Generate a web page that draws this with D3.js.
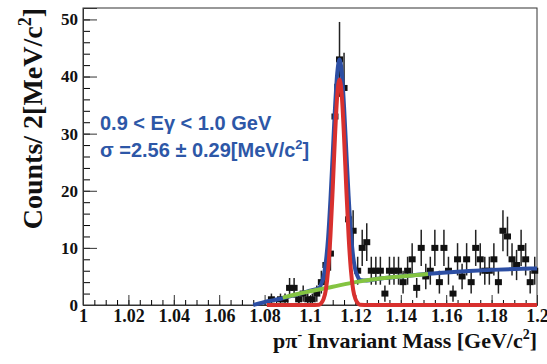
<!DOCTYPE html>
<html>
<head>
<meta charset="utf-8">
<script src="https://cdn.jsdelivr.net/npm/d3@7"></script>
<style>
  body { margin: 0; background: #fff; }
  svg { display: block; }
</style>
</head>
<body>
<div id="plot"></div>
<script>
// Histogram bins (bin centre in GeV, counts per 2 MeV)
const binCenters = [1.083, 1.087, 1.089, 1.091, 1.093, 1.095, 1.097, 1.099, 1.101, 1.103,
  1.105, 1.107, 1.109, 1.111, 1.113, 1.115, 1.117, 1.119, 1.121, 1.123,
  1.125, 1.127, 1.129, 1.131, 1.133, 1.135, 1.137, 1.139, 1.141, 1.143,
  1.145, 1.147, 1.149, 1.151, 1.153, 1.155, 1.157, 1.159, 1.161, 1.163,
  1.165, 1.167, 1.169, 1.171, 1.173, 1.175, 1.177, 1.179, 1.181, 1.183,
  1.185, 1.187, 1.189, 1.191, 1.193, 1.195, 1.197, 1.199];
const binCounts = [1, 1, 1, 3, 3, 1, 2, 1, 1, 2,
  4, 7, 9, 33, 43, 38, 15, 13, 6, 10,
  11, 6, 6, 6, 2, 6, 6, 6, 4, 6,
  8, 3, 10, 5, 6, 10, 4, 10, 6, 2,
  8, 5, 8, 4, 10, 8, 6, 6, 8, 4,
  13, 12, 8, 7, 10, 8, 4, 6];

// Total fit (blue)
const totalX = [1.075, 1.078, 1.082, 1.086, 1.090, 1.095, 1.100, 1.104, 1.105, 1.106, 1.107, 1.108,
  1.109, 1.110, 1.111, 1.112, 1.113, 1.114, 1.115, 1.116, 1.117, 1.118, 1.119, 1.120,
  1.121, 1.122, 1.125, 1.130, 1.140, 1.150, 1.160, 1.170, 1.180, 1.190, 1.200];
const totalY = [0, 0.3, 0.7, 1.0, 1.4, 1.9, 2.5, 3.0, 3.7, 5.0, 7.6, 11.9,
  18.4, 26.3, 34.4, 40.6, 43.0, 40.7, 34.7, 26.8, 19.1, 12.7, 8.5, 6.1,
  5.0, 4.4, 4.3, 4.6, 5.0, 5.4, 5.7, 5.95, 6.15, 6.3, 6.4];

// Background (green)
const bkgX = [1.088, 1.100, 1.110, 1.120, 1.130, 1.140, 1.152];
const bkgY = [1.3, 2.4, 3.2, 4.0, 4.6, 5.0, 5.45];

// Signal peak (red)
const sigX = [1.081, 1.100, 1.104, 1.105, 1.106, 1.107, 1.108, 1.109, 1.110, 1.111, 1.112, 1.113,
  1.114, 1.115, 1.116, 1.117, 1.118, 1.119, 1.120, 1.121, 1.122, 1.126, 1.200];
const sigY = [0, 0, 0.05, 0.35, 1.06, 2.7, 6.2, 12.1, 20.3, 29.4, 36.7, 39.5,
  36.7, 29.4, 20.3, 12.1, 6.2, 2.7, 1.06, 0.35, 0.05, 0, 0];

// Axes
const xMajor = [1, 1.02, 1.04, 1.06, 1.08, 1.1, 1.12, 1.14, 1.16, 1.18, 1.2];
const xLabels = ["1", "1.02", "1.04", "1.06", "1.08", "1.1", "1.12", "1.14", "1.16", "1.18", "1.2"];
const yMajor = [0, 10, 20, 30, 40, 50];
const yLabels = ["0", "10", "20", "30", "40", "50"];

const width = 547, height = 364;
const svg = d3.select("#plot").append("svg").attr("width", width).attr("height", height);

const x = d3.scaleLinear().domain([1, 1.2]).range([83, 537]);
const y = d3.scaleLinear().domain([0, 52]).range([305, 8]);

const serif = "'Liberation Serif', 'Times New Roman', serif";
const sans = "'Liberation Sans', Arial, sans-serif";

// frame
svg.append("rect")
  .attr("x", x(1)).attr("y", y(52))
  .attr("width", x(1.2) - x(1)).attr("height", y(0) - y(52))
  .attr("fill", "none").attr("stroke", "#333").attr("stroke-width", 1);

// minor ticks
const xMinor = d3.range(0, 41).map(i => 1 + i * 0.005);
const yMinor = d3.range(0, 26).map(i => i * 2);
svg.append("g").attr("transform", `translate(0, ${y(0)})`)
  .call(d3.axisBottom(x).tickValues(xMinor).tickSize(-5).tickFormat(""))
  .call(g => g.select(".domain").remove());
svg.append("g").attr("transform", `translate(${x(1)}, 0)`)
  .call(d3.axisLeft(y).tickValues(yMinor).tickSize(-7).tickFormat(""))
  .call(g => g.select(".domain").remove());

// major ticks + labels
const xAxis = svg.append("g").attr("transform", `translate(0, ${y(0)})`)
  .call(d3.axisBottom(x).tickValues(xMajor).tickSize(-10).tickPadding(4)
    .tickFormat((d, i) => xLabels[i]));
const yAxis = svg.append("g").attr("transform", `translate(${x(1)}, 0)`)
  .call(d3.axisLeft(y).tickValues(yMajor).tickSize(-14).tickPadding(5)
    .tickFormat((d, i) => yLabels[i]));
[xAxis, yAxis].forEach(g => {
  g.selectAll("line").attr("stroke", "#333");
  g.select(".domain").attr("stroke", "#333");
  g.selectAll("text").attr("font-family", serif).attr("font-weight", "bold")
    .attr("font-size", 18).attr("fill", "#111");
});
yAxis.selectAll("text").attr("font-size", 17);

// data points with sqrt(N) errors
const bins = binCenters.map((c, i) => ({ c: c, n: binCounts[i] }));
svg.append("g").selectAll("line")
  .data(bins).enter().append("line")
    .attr("x1", d => x(d.c)).attr("x2", d => x(d.c))
    .attr("y1", d => y(d.n - Math.sqrt(d.n))).attr("y2", d => y(Math.min(52, d.n + Math.sqrt(d.n))))
    .attr("stroke", "#222").attr("stroke-width", 1.5);
svg.append("g").selectAll("rect")
  .data(bins).enter().append("rect")
    .attr("x", d => x(d.c) - 3.5).attr("y", d => y(d.n) - 3)
    .attr("width", 7).attr("height", 6)
    .attr("fill", "#111");

// fit curves
const line = d3.line().x(d => x(d[0])).y(d => y(d[1])).curve(d3.curveMonotoneX);
const drawCurve = (xs, ys, color) => svg.append("path")
  .datum(xs.map((v, i) => [v, ys[i]]))
  .attr("d", line)
  .attr("fill", "none").attr("stroke", color).attr("stroke-width", 4)
  .attr("stroke-linejoin", "round");
drawCurve(totalX, totalY, "#2c4ea3");
drawCurve(bkgX, bkgY, "#84c441");
drawCurve(sigX, sigY, "#d8302e");

// annotation
const note = svg.append("g").attr("font-family", sans).attr("font-weight", "bold")
  .attr("font-size", 20).attr("fill", "#2d57a7");
note.append("text").attr("x", 100).attr("y", 130).text("0.9 < Eγ < 1.0 GeV");
const sig = note.append("text").attr("x", 100).attr("y", 157);
sig.append("tspan").text("σ =2.56 ± 0.29[MeV/c");
sig.append("tspan").attr("font-size", 13).attr("dy", -8).text("2");
sig.append("tspan").attr("dy", 8).text("]");

// axis titles
const xt = svg.append("text").attr("x", 537).attr("y", 348).attr("text-anchor", "end")
  .attr("font-family", serif).attr("font-weight", "bold").attr("font-size", 22).attr("fill", "#111");
xt.append("tspan").text("pπ");
xt.append("tspan").attr("font-size", 14).attr("dy", -9).text("-");
xt.append("tspan").attr("dy", 9).text(" Invariant Mass [GeV/c");
xt.append("tspan").attr("font-size", 14).attr("dy", -9).text("2");
xt.append("tspan").attr("dy", 9).text("]");

const yt = svg.append("text").attr("transform", "translate(42, 8) rotate(-90)").attr("text-anchor", "end")
  .attr("font-family", serif).attr("font-weight", "bold").attr("font-size", 28).attr("fill", "#111");
yt.append("tspan").text("Counts/ 2[MeV/c");
yt.append("tspan").attr("font-size", 18).attr("dy", -11).text("2");
yt.append("tspan").attr("dy", 11).text("]");
</script>
</body>
</html>
